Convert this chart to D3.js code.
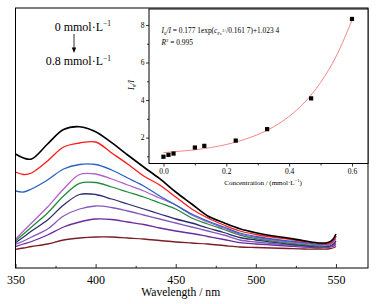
<!DOCTYPE html>
<html>
<head>
<meta charset="utf-8">
<script src="https://cdn.jsdelivr.net/npm/d3@7/dist/d3.min.js"></script>
<style>
  html, body { margin: 0; padding: 0; background: #fff; }
  svg { display: block; }
  text { font-family: "Liberation Serif", "Times New Roman", serif; fill: #000; }
</style>
</head>
<body>
<svg id="chart" width="376" height="304"></svg>
<script>
// ---------- Main spectra data (fluorescence intensity, a.u.) ----------
const wavelengths = [350,355,360,370,380,390,400,410,420,430,440,450,460,470,480,490,500,510,520,530,540,545,548,550];
const int0   = [114,110,109,124,138.5,141.3,136.3,125.3,113,101,89.3,76,64,52,45.3,39.3,35.3,32.3,30,27.3,25,25.5,28.5,34];
const int1   = [96,93.5,95,107,121,125,126,115,104,92,83,71,59,50,43,37,33.5,31,29,26.5,24.5,24.5,27,31];
const int2   = [77,76,79,88,99,103.5,103.5,98,90,82,72,63,54,47,41,35,31.5,29,27,25.5,23.5,24,27,32];
const int3   = [28.7,37,45,61,79,93.5,94,89,83,77,70,63,53,46,40,34,30.5,28,26,24.5,23,23,25,29];
const int4   = [27,34,41,55,72,84.7,85.5,81,76,71,65,59,50,44,38.5,33,29.5,27,25,23.5,22,22.5,26,32];
const int5   = [25.3,31,37,48,63,73.5,73.5,69,64,59,54,49,45,40,35.5,30.5,28,26,24,22.5,21.5,21.5,23.5,27];
const int6   = [23.7,27,31,39,52,59,62,60.5,57,53,49,45,41,37,33,28,26,24.5,23,22,21,21,22.5,25];
const int7   = [21.3,24,26.5,33,41,46,49,48.5,46,43.5,40,37,34.5,31.5,28.5,25.3,24,23,22,21,20.5,20.5,21.5,23.5];
const int8   = [18.7,20,21.5,24,28,30,31,31,30,29,27.5,26,25,24,22.5,21,20.5,20,19.5,19,19,19,20,21.5];
const spectra = [int0,int1,int2,int3,int4,int5,int6,int7,int8];
const spectraColors = ["#000000","#ff1a1a","#2a62c4","#b060c8","#238a3c","#2c2c6e","#8558bc","#6a2c9c","#7a1e24"];
const mainXTicks = [350,400,450,500,550];
const mainXMinor = [375,425,475,525];

// ---------- Inset data (Stern-Volmer) ----------
const conc  = [0,0.016,0.032,0.10,0.13,0.23,0.33,0.47,0.60];
const ratio = [0.98,1.08,1.15,1.47,1.56,1.84,2.45,4.09,8.32];
const fitConc  = [0,0.05,0.10,0.15,0.20,0.25,0.30,0.35,0.40,0.45,0.50,0.55,0.60];
const fitRatio = [1.20,1.27,1.35,1.47,1.63,1.86,2.16,2.57,3.13,3.89,4.93,6.34,8.26];
const insetXTicks = [0,0.2,0.4,0.6];
const insetXMinor = [0.1,0.3,0.5];
const insetYTicks = [2,4,6,8];
const insetYMinor = [1,3,5,7];

const svg = d3.select("#chart");

// ---------- Main plot ----------
const M = {l:15.5, t:8, r:368, b:268};
const x = d3.scaleLinear().domain([350,570]).range([M.l, M.r]);
const y = d3.scaleLinear().domain([0,260]).range([M.b, M.t]);

const line = d3.line()
  .x((d,i) => x(wavelengths[i]))
  .y(d => y(d))
  .curve(d3.curveCatmullRom.alpha(0.5));

const gLines = svg.append("g");
spectra.slice().reverse().forEach((s, k) => {
  const idx = spectra.length - 1 - k;
  gLines.append("path")
    .attr("d", line(s))
    .attr("fill","none")
    .attr("stroke", spectraColors[idx])
    .attr("stroke-width", idx === 0 ? 1.6 : 1.3);
});

// frame
svg.append("rect")
  .attr("x", M.l).attr("y", M.t)
  .attr("width", M.r - M.l).attr("height", M.b - M.t)
  .attr("fill","none").attr("stroke","#000").attr("stroke-width",1);

// bottom axis (inward ticks)
const xAxis = d3.axisBottom(x).tickValues(mainXTicks).tickSize(-4).tickFormat(d3.format("d"));
const gx = svg.append("g").attr("transform", `translate(0,${M.b})`).call(xAxis);
gx.select(".domain").remove();
gx.selectAll("text").attr("font-size", "12px").attr("font-family", "Liberation Serif").attr("dy", null).attr("y", 15.5);
const xMinorAxis = d3.axisBottom(x).tickValues(mainXMinor).tickSize(-2.2).tickFormat("");
const gxm = svg.append("g").attr("transform", `translate(0,${M.b})`).call(xMinorAxis);
gxm.select(".domain").remove();

svg.append("text")
  .attr("x", (x(350)+x(550))/2 + 5).attr("y", 295.8)
  .attr("text-anchor","middle").attr("font-size","11.6px")
  .text("Wavelength / nm");

// annotation
const ann1 = svg.append("text").attr("x", 111).attr("y", 30.5).attr("text-anchor","end").attr("font-size","12px");
ann1.append("tspan").text("0 mmol·L");
ann1.append("tspan").attr("dy",-4.5).attr("font-size","7.5px").text("−1");
const ann2 = svg.append("text").attr("x", 111).attr("y", 65).attr("text-anchor","end").attr("font-size","12px");
ann2.append("tspan").text("0.8 mmol·L");
ann2.append("tspan").attr("dy",-4.5).attr("font-size","7.5px").text("−1");
svg.append("line").attr("x1",74).attr("x2",74).attr("y1",34).attr("y2",50.5)
  .attr("stroke","#000").attr("stroke-width",0.8);
svg.append("path").attr("d","M71.8,47.5 L74,53 L76.2,47.5 Z").attr("fill","#000");

// ---------- Inset ----------
const I = {l:149, t:9, r:368, b:163.5};
const ix = d3.scaleLinear().domain([-0.046,0.651]).range([I.l, I.r]);
const iy = d3.scaleLinear().domain([0.62,8.85]).range([I.b, I.t]);

svg.append("rect")
  .attr("x", I.l).attr("y", I.t)
  .attr("width", I.r - I.l).attr("height", I.b - I.t)
  .attr("fill","#fff").attr("stroke","#000").attr("stroke-width",1);

const fitLine = d3.line().x((d,i) => ix(fitConc[i])).y(d => iy(d)).curve(d3.curveMonotoneX);
svg.append("path").attr("d", fitLine(fitRatio))
  .attr("fill","none").attr("stroke","#f27a7a").attr("stroke-width",0.9);

svg.append("g").selectAll("rect").data(conc).join("rect")
  .attr("x", (d) => ix(d) - 2.1)
  .attr("y", (d,i) => iy(ratio[i]) - 2.1)
  .attr("width", 4.2).attr("height", 4.2).attr("fill","#000");

// inset axes (outward ticks)
const ixAxis = d3.axisBottom(ix).tickValues(insetXTicks).tickSize(3).tickFormat(d3.format(".1f"));
const gix = svg.append("g").attr("transform", `translate(0,${I.b})`).call(ixAxis);
gix.select(".domain").remove();
gix.selectAll("text").attr("font-size","7.5px").attr("font-family","Liberation Serif").attr("dy",null).attr("y",10.5);
const ixMinor = d3.axisBottom(ix).tickValues(insetXMinor).tickSize(2).tickFormat("");
svg.append("g").attr("transform", `translate(0,${I.b})`).call(ixMinor).select(".domain").remove();

const iyAxis = d3.axisLeft(iy).tickValues(insetYTicks).tickSize(3).tickFormat(d3.format("d"));
const giy = svg.append("g").attr("transform", `translate(${I.l},0)`).call(iyAxis);
giy.select(".domain").remove();
giy.selectAll("text").attr("font-size","7.5px").attr("font-family","Liberation Serif").attr("x",-4.5);
const iyMinor = d3.axisLeft(iy).tickValues(insetYMinor).tickSize(2).tickFormat("");
svg.append("g").attr("transform", `translate(${I.l},0)`).call(iyMinor).select(".domain").remove();

svg.selectAll(".tick line").attr("stroke","#000").attr("stroke-width",0.8);

// inset titles
const ct = svg.append("text").attr("x", 263).attr("y", 184.5).attr("text-anchor","middle").attr("font-size","7px");
ct.append("tspan").text("Concentration / (mmol·L");
ct.append("tspan").attr("dy",-2.8).attr("font-size","4.5px").text("−1");
ct.append("tspan").attr("dy",2.8).text(")");

const yl = svg.append("text").attr("transform","translate(134,85) rotate(-90)")
  .attr("text-anchor","middle").attr("font-size","8px").attr("font-style","italic");
yl.append("tspan").text("I");
yl.append("tspan").attr("dy",1.8).attr("font-size","5px").text("0");
yl.append("tspan").attr("dy",-1.8).text("/I");

const eq = svg.append("text").attr("x",161.5).attr("y",33).attr("font-size","7.4px");
eq.append("tspan").attr("font-style","italic").text("I");
eq.append("tspan").attr("dy",1.8).attr("font-size","4.8px").text("0");
eq.append("tspan").attr("dy",-1.8).attr("font-style","italic").text("/I");
eq.append("tspan").text(" = 0.177 1exp(");
eq.append("tspan").attr("font-style","italic").text("c");
eq.append("tspan").attr("dy",1.8).attr("font-size","4.8px").text("Fe");
eq.append("tspan").attr("dy",-2.5).attr("font-size","3.8px").text("3+");
eq.append("tspan").attr("dy",0.7).text("/0.161 7)+1.023 4");

const r2 = svg.append("text").attr("x",161.5).attr("y",44.5).attr("font-size","7.4px");
r2.append("tspan").attr("font-style","italic").text("R");
r2.append("tspan").attr("dy",-2.6).attr("font-size","4.8px").text("2");
r2.append("tspan").attr("dy",2.6).text(" = 0.995");
</script>
</body>
</html>
